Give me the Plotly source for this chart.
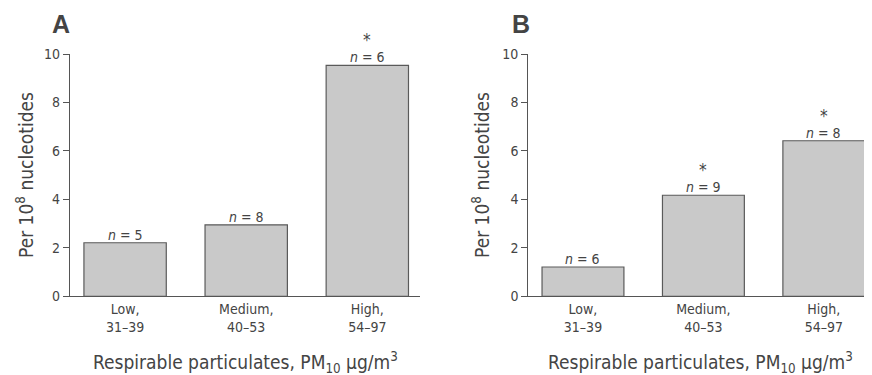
import plotly.graph_objects as go

categories = ["Low", "Medium", "High"]
tick_labels = ["Low,<br>31–39", "Medium,<br>40–53", "High,<br>54–97"]
values_a = [2.21, 2.95, 9.53]
values_b = [1.21, 4.17, 6.42]
n_a = [5, 8, 6]
n_b = [6, 9, 8]
sig_a = [False, False, True]
sig_b = [False, True, True]

FONT = "Liberation Sans Narrow, DejaVu Sans Condensed, Arial Narrow, sans-serif"
TXT = "#444444"
FILL = "#c9c9c9"
EDGE = "#5a5a5a"

# page body has an 8px default margin; figure fills the remaining window
OFF = 8
W, H = 872 - OFF, 375 - OFF


def px(x):
    return (x - OFF) / W


def py(y):
    return 1 - (y - OFF) / H


fig = go.Figure()
fig.add_trace(go.Bar(x=categories, y=values_a, xaxis="x", yaxis="y", width=0.68,
                     marker=dict(color=FILL, line=dict(color=EDGE, width=1.2)),
                     showlegend=False, hoverinfo="skip"))
fig.add_trace(go.Bar(x=categories, y=values_b, xaxis="x2", yaxis="y2", width=0.68,
                     marker=dict(color=FILL, line=dict(color=EDGE, width=1.2)),
                     showlegend=False, hoverinfo="skip"))

y_dom = [py(296.3), py(54.0)]

xcommon = dict(type="category", categoryorder="array", categoryarray=categories,
               tickmode="array", tickvals=categories, ticktext=tick_labels,
               showline=True, linecolor="#555555", linewidth=1.2, ticks="",
               showgrid=False, zeroline=False, automargin=False,
               tickfont=dict(family=FONT, size=14, color=TXT))
ycommon = dict(range=[0, 10], tickvals=[0, 2, 4, 6, 8, 10], showline=True,
               linecolor="#555555", linewidth=1.2, ticks="outside", ticklen=6,
               tickcolor="#555555", tickwidth=1, showgrid=False, zeroline=False,
               automargin=False,
               tickfont=dict(family=FONT, size=14, color=TXT))

fig.update_layout(
    template="none",
    width=W, height=H,
    margin=dict(l=0, r=0, t=0, b=0, pad=0, autoexpand=False),
    paper_bgcolor="white", plot_bgcolor="white",
    xaxis=dict(domain=[px(70), px(420)], range=[-0.455, 2.435], anchor="y", **xcommon),
    yaxis=dict(domain=y_dom, anchor="x", **ycommon),
    xaxis2=dict(domain=[px(528.3), 1.0], range=[-0.454, 2.4], anchor="y2", **xcommon),
    yaxis2=dict(domain=y_dom, anchor="x2", **ycommon),
)

ann = []
for xa, ya, vals, ns, sigs in [("x", "y", values_a, n_a, sig_a), ("x2", "y2", values_b, n_b, sig_b)]:
    for c, v, n, s in zip(categories, vals, ns, sigs):
        ann.append(dict(x=c, y=v, xref=xa, yref=ya, text=f"<i>n</i> = {n}", showarrow=False,
                        yanchor="middle", yshift=8, font=dict(family=FONT, size=14, color=TXT)))
        if s:
            ann.append(dict(x=c, y=v, xref=xa, yref=ya, text="*", showarrow=False,
                            yanchor="middle", yshift=25, font=dict(family=FONT, size=17, color=TXT)))

# panel letters
for letter, xc in [("A", 61), ("B", 521)]:
    ann.append(dict(x=px(xc), y=py(24), xref="paper", yref="paper", text=f"<b>{letter}</b>",
                    showarrow=False, xanchor="center", yanchor="middle",
                    font=dict(family="Liberation Sans, Arial, sans-serif", size=25, color="#444444")))

# axis titles
ytitle = "Per 10<sup>8</sup> nucleotides"
xtitle = "Respirable particulates, PM<sub>10</sub> µg/m<sup>3</sup>"
for xc in [25, 481]:
    ann.append(dict(x=px(xc), y=py(175), xref="paper", yref="paper", text=ytitle, textangle=-90,
                    showarrow=False, xanchor="center", yanchor="middle",
                    font=dict(family=FONT, size=19, color=TXT)))
for xc in [245, 700]:
    ann.append(dict(x=px(xc), y=py(362), xref="paper", yref="paper", text=xtitle,
                    showarrow=False, xanchor="center", yanchor="middle",
                    font=dict(family=FONT, size=19, color=TXT)))

fig.update_layout(annotations=ann)
fig.write_html("out.html")
